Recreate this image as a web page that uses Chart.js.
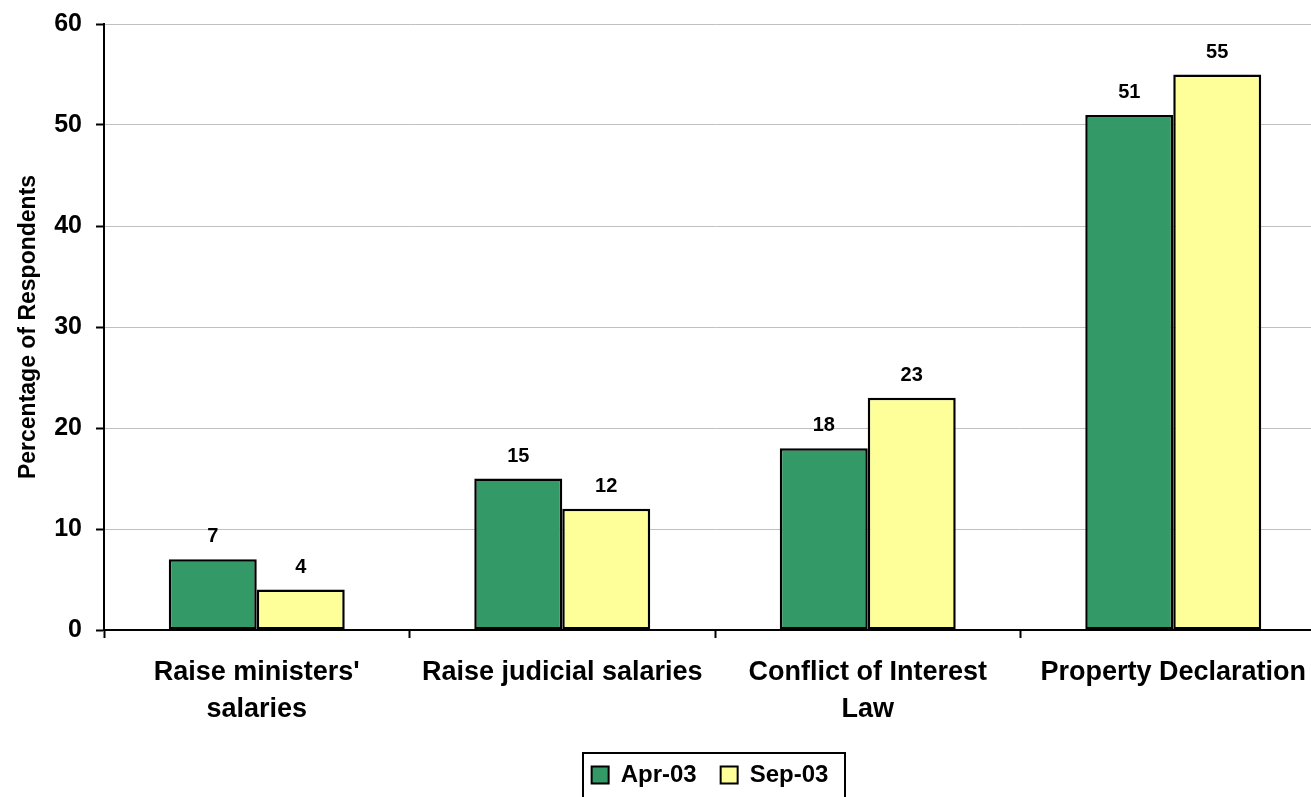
<!DOCTYPE html>
<html>
<head>
<meta charset="utf-8">
<title>Support for anti-corruption measures</title>
<script src="https://cdn.jsdelivr.net/npm/chart.js@4/dist/chart.umd.min.js"></script>
<style>
  html, body { margin: 0; padding: 0; background: #fff; overflow: hidden; }
  #wrap { position: relative; width: 1327px; height: 797px; }
</style>
</head>
<body>
<div id="wrap"><canvas id="chart"></canvas></div>
<script>
// Survey measures and the share of respondents in each round
const categories = [
  ["Raise ministers'", "salaries"],
  "Raise judicial salaries",
  ["Conflict of Interest", "Law"],
  "Property Declaration"
];
const seriesNames = ["Apr-03", "Sep-03"];
const apr03 = [7, 15, 18, 51];
const sep03 = [4, 12, 23, 55];
const yMin = 0, yMax = 60, yStep = 10;

const FONT = "'Liberation Sans', Arial, Helvetica, sans-serif";
const LEGEND_SHIFT = -5;

// Writes each bar's value above it
const valueLabels = {
  id: 'valueLabels',
  afterDatasetsDraw(chart) {
    const ctx = chart.ctx;
    ctx.save();
    ctx.font = 'bold 20px ' + FONT;
    ctx.fillStyle = '#000';
    ctx.textAlign = 'center';
    ctx.textBaseline = 'alphabetic';
    chart.data.datasets.forEach((ds, di) => {
      chart.getDatasetMeta(di).data.forEach((bar, i) => {
        ctx.fillText(String(ds.data[i]), bar.x, bar.y - 17);
      });
    });
    ctx.restore();
  }
};

// Nudges the legend slightly left of the plot centre and frames it
const legendFrame = {
  id: 'legendFrame',
  afterUpdate(chart) {
    const lg = chart.legend;
    if (!lg || !lg.legendHitBoxes) return;
    lg.left += LEGEND_SHIFT;
    lg.right += LEGEND_SHIFT;
    lg.legendHitBoxes.forEach(h => { h.left += LEGEND_SHIFT; });
  },
  afterDraw(chart) {
    const lg = chart.legend;
    if (!lg || !lg.legendHitBoxes || !lg.legendHitBoxes.length) return;
    const hb = lg.legendHitBoxes;
    const left = Math.min(...hb.map(h => h.left)) - 9;
    const right = Math.max(...hb.map(h => h.left + h.width)) + 16;
    const top = hb[0].top + hb[0].height / 2 - 22;
    const ctx = chart.ctx;
    ctx.save();
    ctx.strokeStyle = '#000';
    ctx.lineWidth = 2;
    ctx.strokeRect(Math.round(left), Math.round(top), Math.round(right - left), chart.height - top + 10);
    ctx.restore();
  }
};

new Chart(document.getElementById('chart'), {
  type: 'bar',
  data: {
    labels: categories,
    datasets: [
      {
        label: seriesNames[0],
        data: apr03,
        backgroundColor: '#339966',
        borderColor: '#000',
        borderWidth: 2.5,
        borderSkipped: false
      },
      {
        label: seriesNames[1],
        data: sep03,
        backgroundColor: '#FFFF99',
        borderColor: '#000',
        borderWidth: 2.5,
        borderSkipped: false
      }
    ]
  },
  options: {
    responsive: true,
    maintainAspectRatio: false,
    animation: false,
    layout: { padding: { top: 24, left: 0, right: 1, bottom: 0 } },
    datasets: { bar: { categoryPercentage: 0.576, barPercentage: 1.0 } },
    plugins: {
      legend: {
        position: 'bottom',
        fullSize: false,
        labels: {
          color: '#000',
          font: { family: FONT, size: 24, weight: 'bold' },
          boxWidth: 17,
          boxHeight: 17,
          padding: 24,
          generateLabels(chart) {
            return chart.data.datasets.map((ds, i) => ({
              text: ds.label,
              fillStyle: ds.backgroundColor,
              strokeStyle: '#000',
              lineWidth: 2,
              datasetIndex: i,
              hidden: false
            }));
          }
        }
      },
      tooltip: { enabled: false }
    },
    scales: {
      x: {
        offset: true,
        grid: {
          offset: true,
          drawOnChartArea: false,
          drawTicks: true,
          tickLength: 8,
          tickColor: '#000',
          tickWidth: 2
        },
        border: { color: '#000', width: 2 },
        ticks: {
          color: '#000',
          padding: 16,
          maxRotation: 0,
          autoSkip: false,
          font: { family: FONT, size: 27, weight: 'bold', lineHeight: 1.36 }
        },
        afterFit(scale) {
          scale.height = 109;
          scale.paddingTop = 0;
          scale.paddingBottom = 0;
        }
      },
      y: {
        min: yMin,
        max: yMax,
        grid: {
          color: '#C0C0C0',
          lineWidth: 1,
          drawTicks: true,
          tickLength: 8,
          tickColor: '#000',
          tickWidth: 2
        },
        border: { color: '#000', width: 2 },
        ticks: {
          stepSize: yStep,
          color: '#000',
          padding: 14,
          font: { family: FONT, size: 25, weight: 'bold' }
        },
        title: {
          display: true,
          text: 'Percentage of Respondents',
          color: '#000',
          padding: { top: 15, bottom: 0 },
          font: { family: FONT, size: 23, weight: 'bold', lineHeight: 1.2 }
        },
        afterFit(scale) {
          scale.width = 104;
          scale.paddingTop = 0;
          scale.paddingBottom = 0;
        }
      }
    }
  },
  plugins: [valueLabels, legendFrame]
});
</script>
</body>
</html>
